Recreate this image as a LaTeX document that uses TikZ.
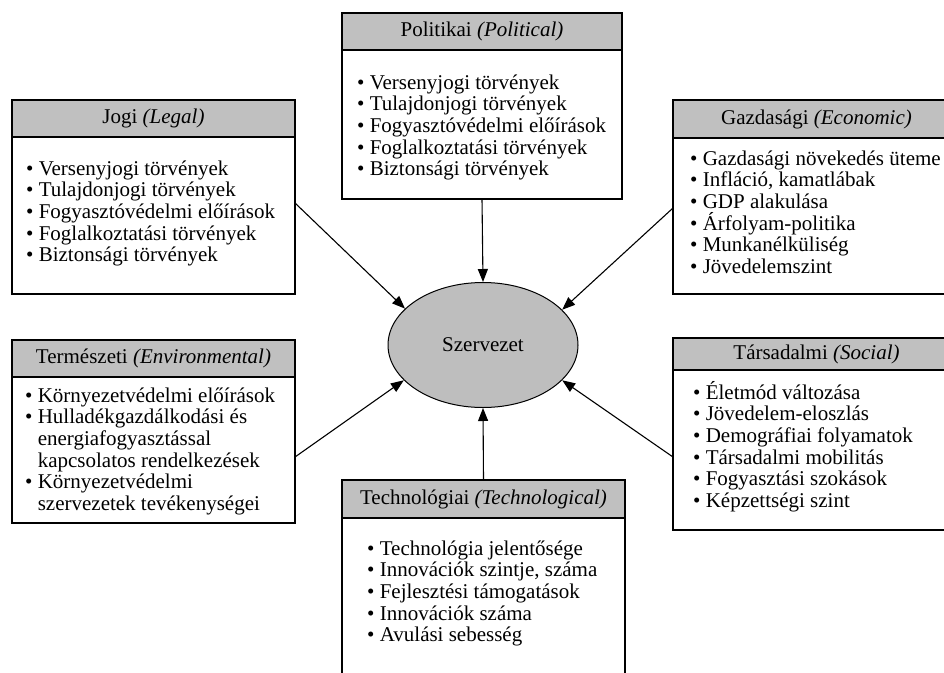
\documentclass[tikz,border=0pt]{standalone}
\usepackage{fontspec}
\setmainfont{Liberation Serif}
\usetikzlibrary{arrows.meta,shapes.geometric}
\definecolor{headgray}{HTML}{C0C0C0}
\definecolor{orggray}{HTML}{BEBEBE}
\begin{document}
\begin{tikzpicture}[x=1pt,y=-1pt,
  txt/.style={font=\fontsize{21}{21.7}\selectfont},
  frame/.style={draw=black, line width=1.4pt, fill=white, inner sep=0pt, outer sep=0pt},
  head/.style={draw=black, line width=1.4pt, fill=headgray, inner sep=0pt, outer sep=0pt,
    minimum height=37pt, anchor=north, txt},
  % lists are placed by the baseline of their last line
  body/.style={txt, align=left, anchor=base west, inner sep=0pt},
  org/.style={ellipse, draw=black, line width=1pt, fill=orggray,
    minimum width=190pt, minimum height=125pt, inner sep=0pt, txt},
  arr/.style={line width=1.1pt, -{Triangle[length=13pt,width=10pt]}}
]
\useasboundingbox (0,0) rectangle (944,672);
\clip (0,0) rectangle (944,672);

% central element
\node[org] (szerv) at (483,345) {Szervezet};

% Politikai
\node[frame, minimum width=280pt, minimum height=186pt] (pol) at (482,106) {};
\node[head, minimum width=280pt] (polh) at (pol.north) {Politikai \textit{(Political)}};
\node[body] (polt) at (357,175.8) {• Versenyjogi törvények\\• Tulajdonjogi törvények\\• Fogyasztóvédelmi előírások\\• Foglalkoztatási törvények\\• Biztonsági törvények};

% Jogi
\node[frame, minimum width=283pt, minimum height=194pt] (jog) at (153.5,197) {};
\node[head, minimum width=283pt] (jogh) at (jog.north) {Jogi \textit{(Legal)}};
\node[body] (jogt) at (26,261.8) {• Versenyjogi törvények\\• Tulajdonjogi törvények\\• Fogyasztóvédelmi előírások\\• Foglalkoztatási törvények\\• Biztonsági törvények};

% Gazdasági
\node[frame, minimum width=287pt, minimum height=194pt] (gaz) at (816.5,197) {};
\node[head, minimum width=287pt, minimum height=38pt] (gazh) at (gaz.north) {Gazdasági \textit{(Economic)}};
\node[body] (gazt) at (690,273.5) {• Gazdasági növekedés üteme\\• Infláció, kamatlábak\\• GDP alakulása\\• Árfolyam-politika\\• Munkanélküliség\\• Jövedelemszint};

% Természeti
\node[frame, minimum width=283pt, minimum height=183pt] (ter) at (153.5,431.5) {};
\node[head, minimum width=283pt] (terh) at (ter.north) {Természeti \textit{(Environmental)}};
\node[body] (tert) at (25,510.5) {• Környezetvédelmi előírások\\• Hulladékgazdálkodási és\\\phantom{• }energiafogyasztással\\\phantom{• }kapcsolatos rendelkezések\\• Környezetvédelmi\\\phantom{• }szervezetek tevékenységei};

% Társadalmi
\node[frame, minimum width=287pt, minimum height=192pt] (tar) at (816.5,434) {};
\node[head, minimum width=287pt, minimum height=32pt] (tarh) at (tar.north) {Társadalmi \textit{(Social)}};
\node[body] (tart) at (693,507.5) {• Életmód változása\\• Jövedelem-eloszlás\\• Demográfiai folyamatok\\• Társadalmi mobilitás\\• Fogyasztási szokások\\• Képzettségi szint};

% Technológiai
\node[frame, minimum width=283pt, minimum height=210pt] (tec) at (483.5,585) {};
\node[head, minimum width=283pt, minimum height=38pt] (tech) at (tec.north) {Technológiai \textit{(Technological)}};
\node[body] (tect) at (367,641.8) {• Technológia jelentősége\\• Innovációk szintje, száma\\• Fejlesztési támogatások\\• Innovációk száma\\• Avulási sebesség};

% influences on the organisation
\draw[arr] (pol.south) -- (szerv.north);
\draw[arr] (tec.north) -- (szerv.south);
\draw[arr] ([yshift=-6pt]jog.east) -- (szerv.155);
\draw[arr] ([yshift=-11pt]gaz.west) -- (szerv.24);
\draw[arr] ([yshift=-25.5pt]ter.east) -- (szerv.204);
\draw[arr] ([yshift=-23pt]tar.west) -- (szerv.336);
\end{tikzpicture}
\end{document}
